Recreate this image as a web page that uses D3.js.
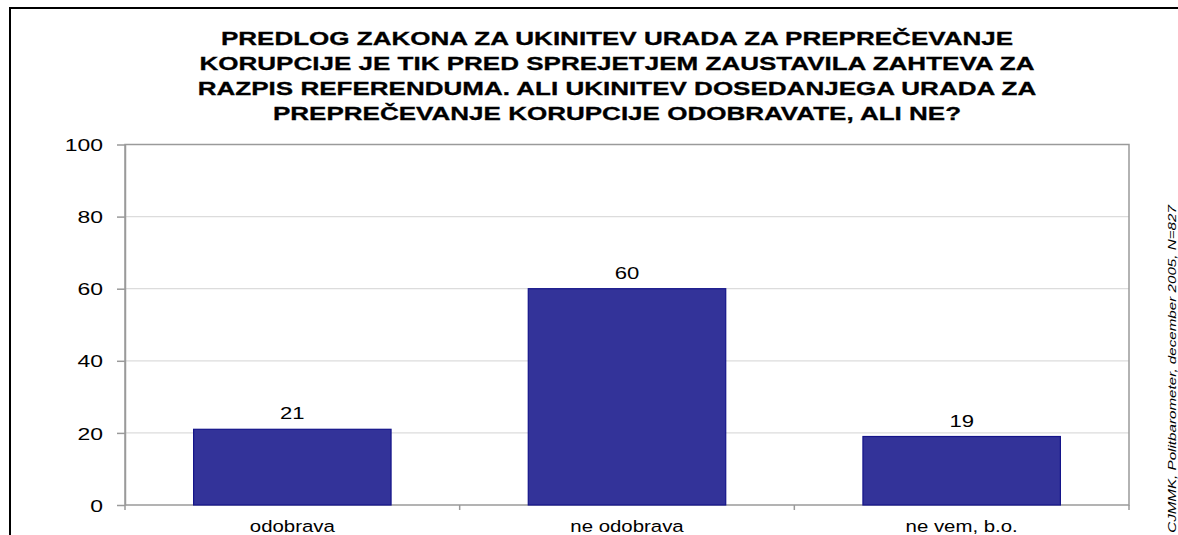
<!DOCTYPE html>
<html>
<head>
<meta charset="utf-8">
<script src="https://cdn.jsdelivr.net/npm/d3@7"></script>
<style>
  html, body { margin: 0; padding: 0; background: #ffffff; }
  svg { display: block; font-family: "Liberation Sans", Arial, sans-serif; }
</style>
</head>
<body>
<svg id="chart" width="1178" height="535"></svg>
<script>
// ---- data ----
const categories = ["odobrava", "ne odobrava", "ne vem, b.o."];
const values = [21, 60, 19];
const yTicks = [0, 20, 40, 60, 80, 100];
const titleLines = [
  "PREDLOG ZAKONA ZA UKINITEV URADA ZA PREPREČEVANJE",
  "KORUPCIJE JE TIK PRED SPREJETJEM ZAUSTAVILA ZAHTEVA ZA",
  "RAZPIS REFERENDUMA. ALI UKINITEV DOSEDANJEGA URADA ZA",
  "PREPREČEVANJE KORUPCIJE ODOBRAVATE, ALI NE?"
];
const sourceNote = "CJMMK, Politbarometer, december 2005, N=827";

// ---- layout ----
const W = 1178, H = 535;
const plot = { left: 125, right: 1129, top: 144.5, bottom: 505 };
const svg = d3.select("#chart");

// outer frame (only top & left visible in the reference)
svg.append("rect")
  .attr("x", 10).attr("y", 8)
  .attr("width", 1300).attr("height", 700)
  .attr("fill", "none").attr("stroke", "#000").attr("stroke-width", 2);

const x = d3.scaleBand().domain(categories)
  .range([plot.left, plot.right]).paddingInner(0.41).paddingOuter(0.205);
const y = d3.scaleLinear().domain([0, 100]).range([plot.bottom, plot.top]);

// gridlines
svg.append("g").selectAll("line")
  .data(yTicks.filter(t => t > 0 && t < 100))
  .join("line")
  .attr("x1", plot.left).attr("x2", plot.right)
  .attr("y1", d => y(d)).attr("y2", d => y(d))
  .attr("stroke", "#dcdcdc").attr("stroke-width", 1.2);

// plot border
svg.append("rect")
  .attr("x", plot.left).attr("y", plot.top)
  .attr("width", plot.right - plot.left).attr("height", plot.bottom - plot.top)
  .attr("fill", "none").attr("stroke", "#9a9a9a").attr("stroke-width", 1.5);

// bars
svg.append("g").selectAll("rect")
  .data(values)
  .join("rect")
  .attr("x", (d, i) => x(categories[i]))
  .attr("y", d => y(d))
  .attr("width", x.bandwidth())
  .attr("height", d => y(0) - y(d))
  .attr("fill", "#333399")
  .attr("stroke", "#14148a").attr("stroke-width", 1.2);

function stretchText(sel, sx) {
  sel.each(function() {
    const t = d3.select(this);
    const tx = +t.attr("x") || 0, ty = +t.attr("y") || 0;
    t.attr("x", 0).attr("y", 0)
     .attr("transform", `translate(${tx},${ty}) scale(${sx},1)`);
  });
}

// y axis
const yAxis = svg.append("g")
  .attr("transform", `translate(${plot.left},0)`)
  .call(d3.axisLeft(y).tickValues(yTicks).tickSize(8).tickPadding(14).tickSizeOuter(0));
yAxis.select(".domain").attr("stroke", "#9a9a9a").attr("stroke-width", 1.5);
yAxis.selectAll(".tick line").attr("stroke", "#9a9a9a").attr("stroke-width", 1.5);
yAxis.selectAll(".tick text")
  .attr("font-size", 17).attr("fill", "#000")
  .attr("font-family", "Liberation Sans, Arial, sans-serif")
  .attr("dy", "0.36em")
  .call(stretchText, 1.35);

// x axis ticks at category boundaries
const step = x.step();
const outer = (plot.right - plot.left - step * categories.length) / 2;
const boundaries = d3.range(categories.length + 1).map(i => plot.left + outer + i * step);
svg.append("g").selectAll("line")
  .data(boundaries)
  .join("line")
  .attr("x1", d => d).attr("x2", d => d)
  .attr("y1", plot.bottom).attr("y2", plot.bottom + 5)
  .attr("stroke", "#9a9a9a").attr("stroke-width", 1.5);

// x labels
svg.append("g").selectAll("text")
  .data(categories)
  .join("text")
  .attr("x", d => x(d) + x.bandwidth() / 2)
  .attr("y", 532)
  .attr("text-anchor", "middle")
  .attr("font-size", 17).attr("fill", "#000")
  .text(d => d)
  .call(stretchText, 1.2);

// value labels
svg.append("g").selectAll("text")
  .data(values)
  .join("text")
  .attr("x", (d, i) => x(categories[i]) + x.bandwidth() / 2)
  .attr("y", d => y(d) - 10)
  .attr("text-anchor", "middle")
  .attr("font-size", 17).attr("fill", "#000")
  .text(d => d)
  .call(stretchText, 1.3);

// title
svg.append("g").selectAll("text")
  .data(titleLines)
  .join("text")
  .attr("x", 617)
  .attr("y", (d, i) => 45 + i * 25)
  .attr("text-anchor", "middle")
  .attr("font-size", 18.6).attr("font-weight", "bold").attr("fill", "#000")
  .attr("stroke", "#000").attr("stroke-width", 0.3)
  .text(d => d)
  .call(stretchText, 1.4);

// source note (rotated)
svg.append("text")
  .attr("transform", "translate(1176,369) rotate(-90) scale(1.38,1)")
  .attr("text-anchor", "middle")
  .attr("font-size", 11).attr("font-style", "italic").attr("fill", "#000")
  .text(sourceNote);
</script>
</body>
</html>
